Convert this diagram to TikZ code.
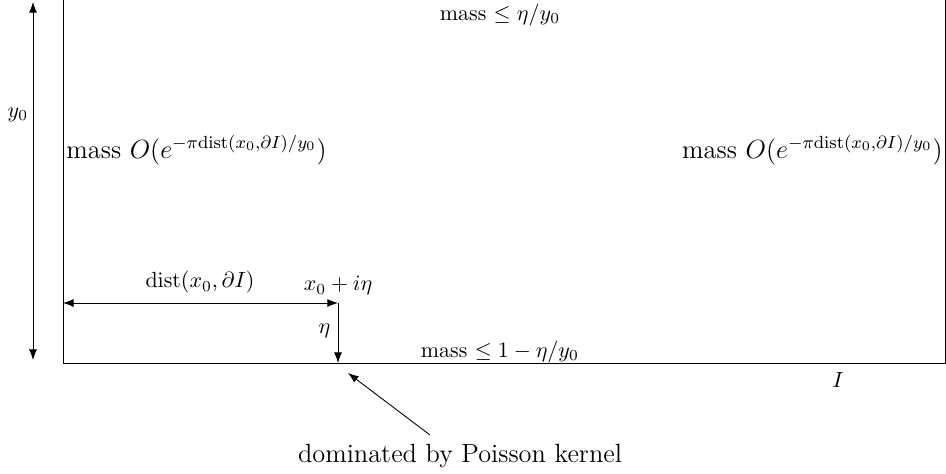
\documentclass[tikz,border=0pt]{standalone}
\usepackage{amsmath, amssymb}
\usepackage{tikz}
\usetikzlibrary{arrows.meta, positioning, calc}

\begin{document}
\begin{tikzpicture}[>=Latex, x=0.016cm, y=0.016cm]
  \useasboundingbox (-63,-110) rectangle (883,363);
  % the region above I
  \coordinate (tl) at (0,363);
  \coordinate (bl) at (0,0);
  \coordinate (br) at (882,0);
  \coordinate (tr) at (882,363);
  \draw (tl) -- (bl) -- (br) -- (tr);
  % height y_0
  \coordinate (ytop) at (-30,361);
  \coordinate (ybot) at (-30,3);
  \draw[<->] (ybot) -- (ytop);
  \node (ylab) at (-45,248) {$y_0$};
  % the point x_0 + i eta
  \coordinate (pt) at (275,60);
  \coordinate (foot) at (275,0);
  \draw[<->] (0,60) coordinate (edge) -- (pt);
  \draw[->] (pt) -- (foot);
  \node[above] (dlab) at (137,62) {$\operatorname{dist}(x_0,\partial I)$};
  \node[above] (plab) at (pt) {$x_0+i\eta$};
  \node[left] (elab) at (275,32) {$\eta$};
  % masses
  \node (mtop) at (437,348) {mass $\le \eta/y_0$};
  \node (mbot) at (437,11) {mass $\le 1-\eta/y_0$};
  \node[anchor=west, inner sep=0pt, font=\large] (mleft) at (3,213)
    {mass $O(e^{-\pi\mathrm{dist}(x_0,\partial I)/y_0})$};
  \node[anchor=east, inner sep=0pt, font=\large] (mright) at (880,213)
    {mass $O(e^{-\pi\mathrm{dist}(x_0,\partial I)/y_0})$};
  \node (ilab) at (775,-17) {$I$};
  % Poisson kernel remark
  \node[font=\large] (plabel) at (397,-93) {dominated by Poisson kernel};
  \coordinate (ptip) at (285,-10);
  \draw[->] (367,-72) -- (ptip);
\end{tikzpicture}
\end{document}
